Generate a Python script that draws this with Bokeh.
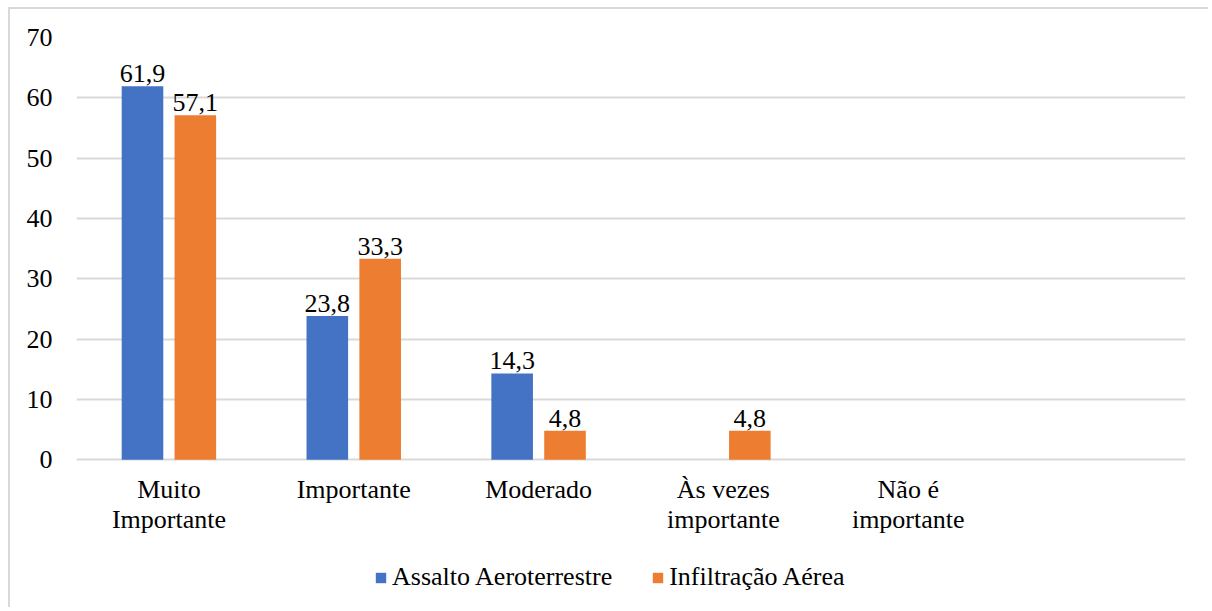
from bokeh.plotting import figure
from bokeh.models import FactorRange, Range1d, ColumnDataSource, Legend, LegendItem, FixedTicker, LabelSet
from bokeh.transform import dodge
from bokeh.core.properties import value
from bokeh.embed import file_html
from bokeh.resources import INLINE

categories = ["Muito Importante", "Importante", "Moderado", "Às vezes importante", "Não é importante"]
category_labels = ["Muito\nImportante", "Importante", "Moderado", "Às vezes\nimportante", "Não é\nimportante"]
assalto = [61.9, 23.8, 14.3, None, None]
infiltracao = [57.1, 33.3, 4.8, 4.8, None]
series_names = ["Assalto Aeroterrestre", "Infiltração Aérea"]
y_ticks = [0, 10, 20, 30, 40, 50, 60, 70]

FONT = "Liberation Serif"
BLUE = "#4472C4"
ORANGE = "#ED7D31"
GRID = "#D9D9D9"

factors = categories + [" "]

# frame extends below zero to hold category labels and legend (ticks only 0..70)
p = figure(width=1200, height=600, x_range=FactorRange(*factors), y_range=Range1d(-24.85, 70),
           output_backend="svg", toolbar_location=None,
           min_border_left=66, min_border_top=28, min_border_right=25, min_border_bottom=0)
p.styles = {"margin-left": "8px", "margin-top": "7px",
            "border-left": "2px solid #D9D9D9", "border-top": "2px solid #D9D9D9"}
p.x_range.range_padding = 0
p.outline_line_color = None
p.background_fill_color = "white"
p.border_fill_color = "white"

def make_src(vals):
    xs, ys, labs = [], [], []
    for c, v in zip(categories, vals):
        if v is None:
            continue
        xs.append(c)
        ys.append(v)
        labs.append(f"{v:.1f}".replace(".", ","))
    return ColumnDataSource(dict(x=xs, y=ys, lab=labs))

src_a = make_src(assalto)
src_i = make_src(infiltracao)

off = 0.143
bw = 0.225
r_a = p.vbar(x=dodge("x", -off, range=p.x_range), top="y", width=bw, source=src_a,
             fill_color=BLUE, line_color=None)
r_i = p.vbar(x=dodge("x", off, range=p.x_range), top="y", width=bw, source=src_i,
             fill_color=ORANGE, line_color=None)

for src, o in ((src_a, -off), (src_i, off)):
    p.add_layout(LabelSet(x=dodge("x", o, range=p.x_range), y="y", text="lab", source=src,
                          text_font=value(FONT), text_font_size=value("26px"), text_color="black",
                          text_align="center", text_baseline="alphabetic", y_offset=4))

# category labels, each line centred on its own
lines = [lab.split("\n") for lab in category_labels]
for i, yoff in ((0, -15), (1, -45)):
    xs = [c for c, ls in zip(categories, lines) if len(ls) > i]
    ts = [ls[i] for ls in lines if len(ls) > i]
    cat_src = ColumnDataSource(dict(x=xs, y=[0] * len(xs), lab=ts))
    p.add_layout(LabelSet(x="x", y="y", text="lab", source=cat_src,
                          text_font=value(FONT), text_font_size=value("26px"), text_color="black",
                          text_align="center", text_baseline="top", y_offset=yoff))

# axes
p.yaxis.ticker = FixedTicker(ticks=y_ticks)
p.yaxis.axis_line_color = None
p.yaxis.major_tick_line_color = None
p.yaxis.minor_tick_line_color = None
p.yaxis.major_tick_out = 0
p.yaxis.major_tick_in = 0
p.yaxis.major_label_standoff = 24
p.yaxis.major_label_text_font = FONT
p.yaxis.major_label_text_font_size = "26px"
p.yaxis.major_label_text_color = "black"

p.xaxis.visible = False

p.xgrid.grid_line_color = None
p.ygrid.grid_line_color = GRID
p.ygrid.grid_line_width = 2

legend = Legend(items=[LegendItem(label=series_names[0], renderers=[r_a]),
                       LegendItem(label=series_names[1], renderers=[r_i])],
                orientation="horizontal", location=(298, 17),
                label_text_font=FONT, label_text_font_size="26px", label_text_color="black",
                glyph_width=13, glyph_height=13, label_standoff=5, spacing=39,
                padding=0, margin=0, border_line_color=None, background_fill_alpha=0)
p.add_layout(legend, "center")

open("out.html", "w").write(file_html(p, INLINE))
